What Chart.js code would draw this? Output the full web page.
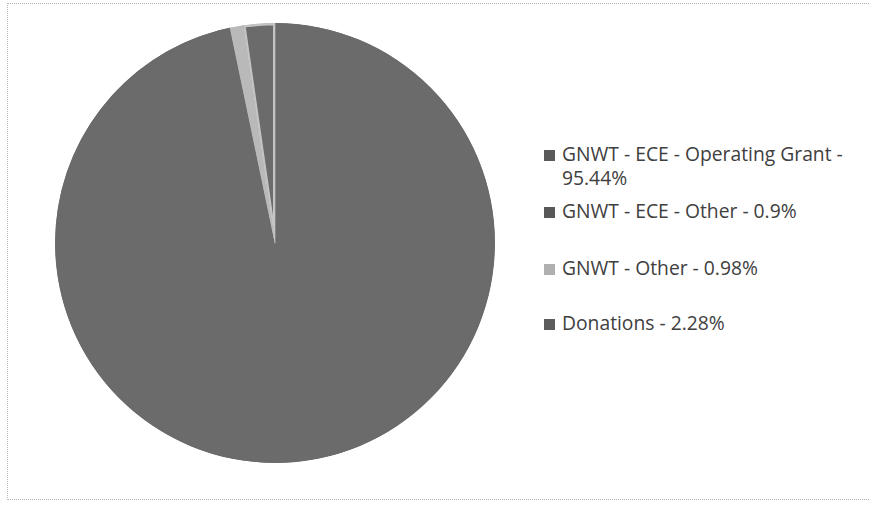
<!DOCTYPE html>
<html>
<head>
<meta charset="utf-8">
<script src="https://cdn.jsdelivr.net/npm/chart.js@4/dist/chart.umd.min.js"></script>
<style>
  html, body { margin: 0; padding: 0; background: #ffffff; }
  body { width: 870px; height: 505px; position: relative; overflow: hidden; font-family: "Open Sans", sans-serif; }
  #frame { position: absolute; left: 7px; top: 3px; width: 880px; height: 497px; border-top: 1px dotted #b0b0b0; border-left: 1px dotted #b8b8b8; border-bottom: 1px dotted #b0b0b0; box-sizing: border-box; }
  #pieBox { position: absolute; left: 55px; top: 21px; width: 440px; height: 444px; }
  .lg { position: absolute; left: 562px; font-size: 19.3px; line-height: 24px; color: #404040; white-space: nowrap; }
  .mk { position: absolute; left: 544px; width: 11px; height: 11px; }
</style>
</head>
<body>
<div id="frame"></div>
<div id="pieBox"><canvas id="c"></canvas></div>
<div id="legend"></div>
<script>
const categories = ["GNWT - ECE - Operating Grant", "GNWT - ECE - Other", "GNWT - Other", "Donations"];
const percentValues = [95.44, 0.9, 0.98, 2.28];
const percentLabels = ["95.44%", "0.9%", "0.98%", "2.28%"];
const sliceColors = ["#6b6b6b", "#6b6b6b", "#b9b9b9", "#6b6b6b"];

const ctx = document.getElementById('c');
new Chart(ctx, {
  type: 'pie',
  data: {
    labels: categories,
    datasets: [{
      data: percentValues,
      backgroundColor: sliceColors,
      borderColor: ["#6b6b6b", "#6b6b6b", "#b9b9b9", "#c4c4c4"],
      borderWidth: [1, 1, 1, 2],
      borderAlign: 'inner'
    }]
  },
  options: {
    responsive: true,
    maintainAspectRatio: false,
    animation: false,
    layout: { padding: 0 },
    plugins: { legend: { display: false }, tooltip: { enabled: false } }
  }
});

// HTML legend built from the arrays
const legend = document.getElementById('legend');
const rows = [
  { tops: [142, 166], parts: [categories[0] + " -", percentLabels[0]] },
  { tops: [199], parts: [categories[1] + " - " + percentLabels[1]] },
  { tops: [256], parts: [categories[2] + " - " + percentLabels[2]] },
  { tops: [311], parts: [categories[3] + " - " + percentLabels[3]] }
];
const markerColors = ["#5a5a5a", "#585858", "#b0b0b0", "#5c5c5c"];
rows.forEach((r, i) => {
  const mk = document.createElement('div');
  mk.className = 'mk';
  mk.style.top = (r.tops[0] + 8) + 'px';
  mk.style.background = markerColors[i];
  legend.appendChild(mk);
  r.parts.forEach((t, j) => {
    const d = document.createElement('div');
    d.className = 'lg';
    d.style.top = r.tops[j] + 'px';
    d.textContent = t;
    legend.appendChild(d);
  });
});
</script>
</body>
</html>
